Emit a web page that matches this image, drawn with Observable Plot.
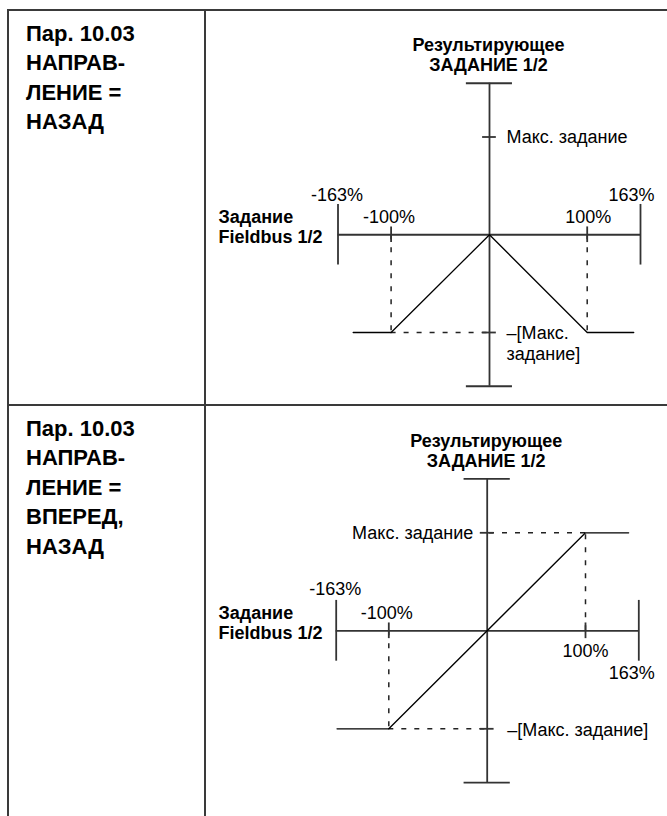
<!DOCTYPE html>
<html>
<head>
<meta charset="utf-8">
<script src="https://cdn.jsdelivr.net/npm/d3@7"></script>
<script src="https://cdn.jsdelivr.net/npm/@observablehq/plot@0.6"></script>
<style>
  body { margin: 0; background: #fff; width: 667px; height: 816px; overflow: hidden; position: relative;
         font-family: "Liberation Sans", Arial, sans-serif; }
  .rule { position: absolute; background: #3a3a3a; }
  .rowtitle { position: absolute; left: 26px; font-weight: bold; font-size: 22px; line-height: 29.5px;
              color: #000; white-space: pre; }
  .panel { position: absolute; left: 205px; }
  .panel svg { background: transparent; }
</style>
</head>
<body>
<div class="rule" style="left:7px;top:9px;width:660px;height:2px"></div>
<div class="rule" style="left:7px;top:9px;width:2px;height:807px"></div>
<div class="rule" style="left:204px;top:9px;width:2px;height:807px"></div>
<div class="rule" style="left:7px;top:403.5px;width:660px;height:2px"></div>
<div class="rowtitle" id="title1" style="top:18.5px"></div>
<div class="rowtitle" id="title2" style="top:413.5px"></div>
<div class="panel" id="panel1" style="top:10px"></div>
<div class="panel" id="panel2" style="top:405px"></div>
<script>
// ---------- data ----------
const xBreaks = [-163, -100, 0, 100, 163];
const xTickValues = [-163, -100, 100, 163];
const xTickLabels = ["-163%", "-100%", "100%", "163%"];
const yAxisEnd = 1.55;
const yRefLevels = [1, -1];

const curve1X = [-145, -100, 0, 100, 155];
const curve1Y = [-1, -1, 0, -1, -1];
const curve2X = [-162, -100, 100, 151];
const curve2Y = [-1, -1, 1, 1];

const rowTitle1 = ["Пар. 10.03", "НАПРАВ-", "ЛЕНИЕ =", "НАЗАД"];
const rowTitle2 = ["Пар. 10.03", "НАПРАВ-", "ЛЕНИЕ =", "ВПЕРЕД,", "НАЗАД"];
const yTitle = ["Результирующее", "ЗАДАНИЕ 1/2"];
const xTitle = ["Задание", "Fieldbus 1/2"];
const maxLabel = "Макс. задание";
const negMaxLabelLines = ["–[Макс.", "задание]"];

// ---------- layout ----------
document.getElementById("title1").textContent = rowTitle1.join("\n");
document.getElementById("title2").textContent = rowTitle2.join("\n");

const axisStyle = {stroke: "#333", strokeWidth: 1.8};
const dashStyle = {stroke: "#222", strokeWidth: 1.5, strokeDasharray: "5,8"};
const fontFamily = "'Liberation Sans', Arial, sans-serif";

function points(xs, ys) { return xs.map((x, i) => ({x, y: ys[i]})); }

function panel(cfg) {
  const pts = points(cfg.curveX, cfg.curveY);
  const knees = pts.filter(d => Math.abs(d.x) === 100);
  const hKnees = knees.filter(cfg.hGuide);
  const tickMarks = xTickValues.map((v, i) =>
    Plot.text([v], {x: d => d, y: 0, text: () => xTickLabels[i],
      dx: cfg.tickOffsets[i][0], dy: cfg.tickOffsets[i][1], fontSize: 18}));
  return Plot.plot({
    width: 462,
    height: cfg.height,
    marginTop: 0, marginRight: 0, marginBottom: 0, marginLeft: 13,
    x: {type: "linear", domain: xBreaks, range: cfg.xRange, axis: null},
    y: {type: "linear", domain: [-1, 1], range: cfg.yRange, axis: null},
    style: {background: "transparent", fontFamily, fontSize: "18px", color: "#000", overflow: "visible"},
    marks: [
      // dashed guides
      Plot.ruleX(knees, {x: "x", y1: 0, y2: "y", ...dashStyle}),
      Plot.ruleY(hKnees, {y: "y", x1: "x", x2: 0, ...dashStyle}),
      // axes
      Plot.ruleX([0], {y1: -yAxisEnd, y2: yAxisEnd, ...axisStyle}),
      Plot.ruleY([-yAxisEnd, yAxisEnd], {x1: -23.5, x2: 23.5, ...axisStyle}),
      Plot.ruleY([0], {x1: xBreaks[0], x2: xBreaks[xBreaks.length - 1], ...axisStyle}),
      Plot.ruleX([xBreaks[0], xBreaks[xBreaks.length - 1]], {y1: -0.31, y2: 0.31, ...axisStyle}),
      Plot.ruleX([-100, 100], {y1: -0.08, y2: 0.08, ...axisStyle}),
      Plot.ruleY(yRefLevels, {x1: -7, x2: 7, ...axisStyle}),
      // characteristic
      Plot.line(pts, {x: "x", y: "y", stroke: "#000", strokeWidth: 1.3}),
      // titles
      Plot.text([yTitle.join("\n")], {x: 0, y: yAxisEnd, text: d => d, dx: -1, dy: -28.5,
        fontWeight: "bold", lineHeight: 1.11, fontSize: 18}),
      Plot.text([xTitle.join("\n")], {frameAnchor: "left", y: 0, text: d => d, dy: -8,
        textAnchor: "start", fontWeight: "bold", lineHeight: 1.11, fontSize: 18}),
      // level labels
      Plot.text([1], {x: 0, y: d => d, text: () => maxLabel, textAnchor: cfg.maxAnchor,
        dx: cfg.maxDx, fontSize: 18}),
      Plot.text([-1], {x: 0, y: d => d, text: () => negMaxLabelLines.join(cfg.negJoin),
        textAnchor: "start", dx: cfg.negDx, dy: cfg.negDy, lineHeight: 1.17, fontSize: 18}),
      ...tickMarks
    ]
  });
}

document.getElementById("panel1").append(panel({
  height: 395,
  xRange: [132.5, 185.6, 284, 381.7, 435],
  yRange: [322, 126.5],
  curveX: curve1X, curveY: curve1Y,
  hGuide: d => d.x < 0,
  tickOffsets: [[-1, -40], [-2, -17.5], [1, -17.5], [-9, -40]],
  maxAnchor: "start", maxDx: 17,
  negJoin: "\n", negDx: 17, negDy: 10.5
}));

document.getElementById("panel2").append(panel({
  height: 411,
  xRange: [130.7, 183.3, 281.7, 380, 433.3],
  yRange: [323.3, 127.3],
  curveX: curve2X, curveY: curve2Y,
  hGuide: d => true,
  tickOffsets: [[-1, -42], [-2, -18], [0, 20], [-7, 42]],
  maxAnchor: "end", maxDx: -14,
  negJoin: " ", negDx: 20, negDy: 0
}));
</script>
</body>
</html>
